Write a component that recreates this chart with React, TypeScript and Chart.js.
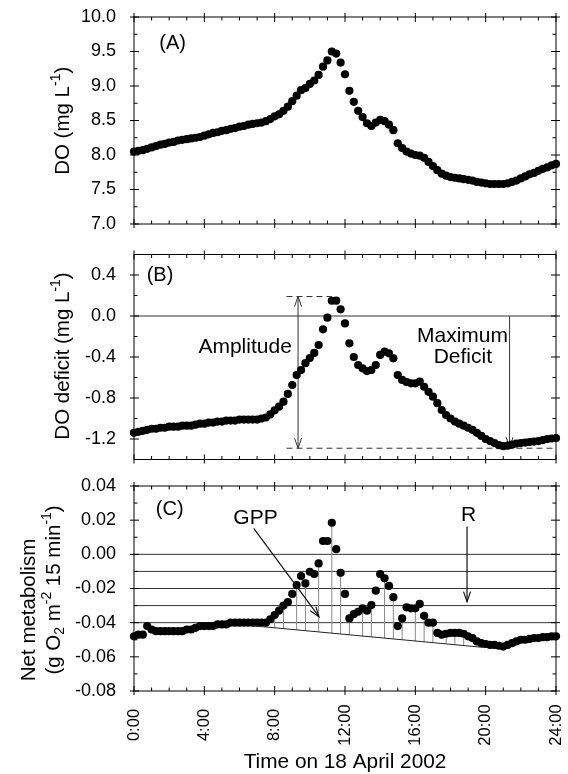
import React, { useEffect, useRef } from 'react';
import { Chart, registerables } from 'chart.js';

Chart.register(...registerables);

const FONT = '"Liberation Sans", Arial, Helvetica, sans-serif';

// ---- data (15-minute samples, 0:00 .. 24:00) ----
const STEP_HOURS = 0.25;

const DO_MG_L = [
  8.05, 8.06, 8.07, 8.09, 8.11, 8.13, 8.15, 8.16, 8.18, 8.19, 8.21, 8.22, 8.23, 8.24, 8.25, 8.26,
  8.28, 8.30, 8.32, 8.33, 8.35, 8.36, 8.38, 8.39, 8.41, 8.42, 8.44, 8.45, 8.46, 8.47, 8.49,
  8.52, 8.56, 8.59, 8.64, 8.70, 8.78, 8.86, 8.94, 8.97, 9.03, 9.08, 9.16, 9.28, 9.37,
  9.50, 9.47, 9.34, 9.17, 8.93, 8.77, 8.64, 8.55, 8.46, 8.42, 8.47, 8.51, 8.49, 8.44, 8.36, 8.17,
  8.10, 8.05, 8.02, 8.00, 7.99, 7.96, 7.90, 7.84,
  7.78, 7.73, 7.70, 7.68, 7.67, 7.66, 7.65, 7.64, 7.63, 7.61, 7.60, 7.59, 7.58, 7.58, 7.58, 7.58,
  7.59, 7.61, 7.63, 7.66, 7.69, 7.72, 7.74, 7.77, 7.80, 7.82, 7.85, 7.87,
];

const DO_DEFICIT = [
  -1.14, -1.13, -1.12, -1.11, -1.10, -1.10, -1.09, -1.09, -1.08, -1.08, -1.08, -1.07, -1.07, -1.07,
  -1.06, -1.05, -1.05, -1.04, -1.04, -1.03, -1.03, -1.02, -1.02, -1.02, -1.01, -1.01, -1.01, -1.01,
  -1.01, -1.00, -0.99, -0.96,
  -0.92, -0.885, -0.836, -0.76, -0.673, -0.576, -0.527, -0.46, -0.41, -0.36, -0.283, -0.13, -0.016, 0.149,
  0.15, 0.065, -0.072, -0.267, -0.40, -0.478, -0.51, -0.537, -0.527, -0.478, -0.38, -0.348, -0.364,
  -0.413, -0.576, -0.624, -0.645, -0.657, -0.657, -0.64, -0.69, -0.74, -0.787, -0.85, -0.917, -0.966, -1.0,
  -1.03, -1.05, -1.07, -1.09, -1.11, -1.14, -1.17, -1.20, -1.22, -1.24, -1.26, -1.27, -1.265, -1.255,
  -1.245, -1.24, -1.235, -1.23, -1.225, -1.22, -1.21, -1.20, -1.195, -1.19,
];

const NET_METABOLISM = [
  -0.048, -0.047, -0.047, -0.042, -0.044, -0.045, -0.045, -0.045, -0.045, -0.045, -0.045, -0.045,
  -0.044, -0.044, -0.043, -0.042, -0.042, -0.042, -0.042, -0.041, -0.041, -0.041, -0.040, -0.040,
  -0.040, -0.040, -0.040, -0.040, -0.040, -0.040, -0.040,
  -0.038, -0.0355, -0.033, -0.030, -0.028, -0.0232, -0.018, -0.0127, -0.017, -0.0102, -0.0115,
  -0.0053, 0.0078, 0.0078, 0.0185,
  0.003, -0.0108, -0.0232, -0.0375, -0.035, -0.0336, -0.0316, -0.033, -0.0297, -0.0213, -0.0115,
  -0.014, -0.0185, -0.0251, -0.042, -0.0375, -0.031, -0.0316, -0.0316, -0.029, -0.036, -0.040, -0.040,
  -0.046, -0.047, -0.0465, -0.046, -0.046, -0.046, -0.0465, -0.048, -0.049, -0.051, -0.052, -0.0525,
  -0.053, -0.053, -0.0535, -0.054, -0.053, -0.052, -0.051, -0.050, -0.050, -0.0495, -0.049, -0.049,
  -0.0485, -0.0485, -0.048, -0.048,
];

// ---- ticks ----
const X_TICKS = [0, 4, 8, 12, 16, 20, 24];
const X_MINOR = [1, 2, 3, 5, 6, 7, 9, 10, 11, 13, 14, 15, 17, 18, 19, 21, 22, 23];
const A_TICKS = [7.0, 7.5, 8.0, 8.5, 9.0, 9.5, 10.0];
const A_MINOR = [7.25, 7.75, 8.25, 8.75, 9.25, 9.75];
const B_TICKS = [-1.2, -0.8, -0.4, 0.0, 0.4];
const B_MINOR = [-1.4, -1.0, -0.6, -0.2, 0.2, 0.6];
const C_TICKS = [-0.08, -0.06, -0.04, -0.02, 0.0, 0.02, 0.04];
const C_MINOR = [-0.07, -0.05, -0.03, -0.01, 0.01, 0.03];

// ---- annotations ----
const C_REF_LINES = [0, -0.01, -0.02, -0.03, -0.04];
const R_BASELINE = [{ x: 6.75, y: -0.0418 }, { x: 20.0, y: -0.0546 }];
const GPP_STEM_TIMES = [8.0, 8.5, 9.25, 9.75, 10.5, 11.25, 11.75, 12.25, 13.0, 13.5, 14.25, 14.75, 15.25, 16.0, 16.5, 17.0, 17.75, 18.25, 18.75];
const AMPLITUDE = { x: 9.33, top: 0.19, bottom: -1.29, dashFrom: 8.67, dashTopTo: 11.25 };
const MAX_DEFICIT = { x: 21.36, top: 0.0, bottom: -1.28 };
const GPP_ARROW = { x1: 6.81, y1: 0.0152, x2: 10.52, y2: -0.0365 };
const R_ARROW = { x: 18.94, y1: 0.0163, y2: -0.0277 };

const W = 568;
const H = 774;
const LEFT = 134;
const RIGHT = 556;
const TITLE_PX = 20.5;
const NOTE_PX = 21;
const YTICK_PX = 18;
const XTICK_PX = 16.5;

type Seg = { t: string; s?: 'sup' | 'sub' };

function drawRich(ctx: CanvasRenderingContext2D, segs: Seg[], x: number, y: number, size: number, rotate: boolean) {
  ctx.save();
  ctx.translate(x, y);
  if (rotate) ctx.rotate(-Math.PI / 2);
  const small = size * 0.68;
  const widths = segs.map((s) => {
    ctx.font = `${s.s ? small : size}px ${FONT}`;
    return ctx.measureText(s.t).width;
  });
  const total = widths.reduce((a, b) => a + b, 0);
  let cx = -total / 2;
  ctx.textBaseline = 'alphabetic';
  ctx.textAlign = 'left';
  ctx.fillStyle = '#000';
  segs.forEach((s, i) => {
    ctx.font = `${s.s ? small : size}px ${FONT}`;
    const dy = s.s === 'sup' ? -size * 0.42 : s.s === 'sub' ? size * 0.22 : 0;
    ctx.fillText(s.t, cx, dy);
    cx += widths[i];
  });
  ctx.restore();
}

function text(ctx: CanvasRenderingContext2D, str: string, x: number, y: number, size: number, align: CanvasTextAlign = 'center') {
  ctx.save();
  ctx.font = `${size}px ${FONT}`;
  ctx.fillStyle = '#000';
  ctx.textAlign = align;
  ctx.textBaseline = 'middle';
  ctx.fillText(str, x, y);
  ctx.restore();
}

function arrowHead(ctx: CanvasRenderingContext2D, fx: number, fy: number, tx: number, ty: number, len = 10, half = 3.5) {
  const ang = Math.atan2(ty - fy, tx - fx);
  const bx = tx - len * Math.cos(ang);
  const by = ty - len * Math.sin(ang);
  const px = -Math.sin(ang) * half;
  const py = Math.cos(ang) * half;
  ctx.beginPath();
  ctx.moveTo(bx + px, by + py);
  ctx.lineTo(tx, ty);
  ctx.lineTo(bx - px, by - py);
  ctx.stroke();
}

function drawFrame(chart: any, yMajor: number[], yMinor: number[]) {
  const { ctx, chartArea: a } = chart;
  const xs = chart.scales.x;
  const ys = chart.scales.y;
  ctx.save();
  ctx.strokeStyle = '#000';
  ctx.lineWidth = 1;
  ctx.strokeRect(a.left, a.top, a.right - a.left, a.bottom - a.top);
  ctx.beginPath();
  const OUT = 4, IN = 5, MIN = 3.5;
  for (const v of X_TICKS) {
    const p = xs.getPixelForValue(v);
    ctx.moveTo(p, a.bottom + OUT); ctx.lineTo(p, a.bottom - IN);
    ctx.moveTo(p, a.top - OUT); ctx.lineTo(p, a.top + IN);
  }
  for (const v of X_MINOR) {
    const p = xs.getPixelForValue(v);
    ctx.moveTo(p, a.bottom); ctx.lineTo(p, a.bottom - MIN);
    ctx.moveTo(p, a.top); ctx.lineTo(p, a.top + MIN);
  }
  for (const v of yMajor) {
    const p = ys.getPixelForValue(v);
    ctx.moveTo(a.left - OUT, p); ctx.lineTo(a.left + IN, p);
    ctx.moveTo(a.right + OUT, p); ctx.lineTo(a.right - IN, p);
  }
  for (const v of yMinor) {
    const p = ys.getPixelForValue(v);
    ctx.moveTo(a.left, p); ctx.lineTo(a.left + MIN, p);
    ctx.moveTo(a.right, p); ctx.lineTo(a.right - MIN, p);
  }
  ctx.stroke();
  ctx.restore();
}

type PanelCfg = {
  top: number;
  bottom: number;
  min: number;
  max: number;
  ticks: number[];
  minor: number[];
  digits: number;
  values: number[];
  showX: boolean;
  extra?: any[];
  under?: (chart: any) => void;
  over?: (chart: any) => void;
};

function makeChart(canvas: HTMLCanvasElement, cfg: PanelCfg) {
  const points = cfg.values.map((v, i) => ({ x: i * STEP_HOURS, y: v }));
  return new Chart(canvas, {
    type: 'scatter',
    data: {
      datasets: [
        ...(cfg.extra || []),
        {
          data: points,
          showLine: false,
          pointRadius: 4.1,
          pointBackgroundColor: '#000',
          pointBorderWidth: 0,
          pointHoverRadius: 4.1,
          clip: false,
        },
      ],
    },
    options: {
      animation: false,
      responsive: false,
      events: [],
      layout: {
        padding: { left: 0, right: W - RIGHT, top: cfg.top, bottom: cfg.showX ? 0 : H - cfg.bottom },
      },
      plugins: { legend: { display: false }, tooltip: { enabled: false } },
      scales: {
        x: {
          type: 'linear',
          min: 0,
          max: 24,
          display: cfg.showX,
          grid: { display: false, drawTicks: false },
          border: { display: false },
          afterBuildTicks: (s: any) => { s.ticks = X_TICKS.map((v) => ({ value: v })); },
          afterFit: (s: any) => {
            if (cfg.showX) s.height = H - cfg.bottom;
            s.paddingLeft = 0;
            s.paddingRight = 0;
          },
          // labels are drawn centred (rotated) by the panel plugin, positioned with this scale
          ticks: { display: false, autoSkip: false, callback: (v: any) => `${v}:00` },
        },
        y: {
          type: 'linear',
          min: cfg.min,
          max: cfg.max,
          grid: { display: false, drawTicks: false },
          border: { display: false },
          afterBuildTicks: (s: any) => { s.ticks = cfg.ticks.map((v) => ({ value: v })); },
          afterFit: (s: any) => {
            s.width = LEFT;
            s.paddingTop = 0;
            s.paddingBottom = 0;
          },
          ticks: {
            padding: 18,
            color: '#000',
            font: { family: FONT, size: YTICK_PX },
            callback: (v: any) => Number(v).toFixed(cfg.digits),
          },
        },
      },
    } as any,
    plugins: [
      {
        id: 'panelDecor',
        beforeDatasetsDraw(chart: any) { cfg.under && cfg.under(chart); },
        afterDatasetsDraw(chart: any) {
          drawFrame(chart, cfg.ticks, cfg.minor);
          cfg.over && cfg.over(chart);
        },
      },
    ],
  });
}

export default function App() {
  const refA = useRef<HTMLCanvasElement>(null);
  const refB = useRef<HTMLCanvasElement>(null);
  const refC = useRef<HTMLCanvasElement>(null);

  useEffect(() => {
    const chartA = makeChart(refA.current!, {
      top: 17, bottom: 224, min: 7, max: 10, ticks: A_TICKS, minor: A_MINOR, digits: 1,
      values: DO_MG_L, showX: false,
      over: (chart) => {
        const { ctx, scales: { x, y } } = chart;
        text(ctx, '(A)', x.getPixelForValue(1.44), y.getPixelForValue(9.62), NOTE_PX - 1, 'left');
        drawRich(ctx, [{ t: 'DO (mg L' }, { t: '-1', s: 'sup' }, { t: ')' }], 69, 120.8, TITLE_PX, true);
      },
    });

    const chartB = makeChart(refB.current!, {
      top: 254.5, bottom: 459.5, min: -1.4, max: 0.6, ticks: B_TICKS, minor: B_MINOR, digits: 1,
      values: DO_DEFICIT, showX: false,
      under: (chart) => {
        const { ctx, chartArea: a, scales: { x, y } } = chart;
        ctx.save();
        ctx.strokeStyle = '#333';
        ctx.lineWidth = 1;
        const y0 = y.getPixelForValue(0);
        ctx.beginPath(); ctx.moveTo(a.left, y0); ctx.lineTo(a.right, y0); ctx.stroke();
        ctx.setLineDash([6, 4]);
        const yt = y.getPixelForValue(AMPLITUDE.top);
        const yb = y.getPixelForValue(AMPLITUDE.bottom);
        ctx.beginPath();
        ctx.moveTo(x.getPixelForValue(AMPLITUDE.dashFrom), yt); ctx.lineTo(x.getPixelForValue(AMPLITUDE.dashTopTo), yt);
        ctx.moveTo(x.getPixelForValue(AMPLITUDE.dashFrom), yb); ctx.lineTo(a.right, yb);
        ctx.stroke();
        ctx.setLineDash([]);
        const ax = x.getPixelForValue(AMPLITUDE.x);
        ctx.beginPath(); ctx.moveTo(ax, yt); ctx.lineTo(ax, yb); ctx.stroke();
        arrowHead(ctx, ax, yb, ax, yt);
        arrowHead(ctx, ax, yt, ax, yb);
        const mx = x.getPixelForValue(MAX_DEFICIT.x);
        const my1 = y.getPixelForValue(MAX_DEFICIT.top);
        const my2 = y.getPixelForValue(MAX_DEFICIT.bottom);
        ctx.beginPath(); ctx.moveTo(mx, my1); ctx.lineTo(mx, my2); ctx.stroke();
        arrowHead(ctx, mx, my1, mx, my2);
        ctx.restore();
      },
      over: (chart) => {
        const { ctx, scales: { x, y } } = chart;
        text(ctx, '(B)', x.getPixelForValue(0.72), y.getPixelForValue(0.4), NOTE_PX - 1, 'left');
        text(ctx, 'Amplitude', x.getPixelForValue(6.32), y.getPixelForValue(-0.30), NOTE_PX);
        text(ctx, 'Maximum', x.getPixelForValue(18.68), y.getPixelForValue(-0.20), NOTE_PX);
        text(ctx, 'Deficit', x.getPixelForValue(18.7), y.getPixelForValue(-0.40), NOTE_PX);
        drawRich(ctx, [{ t: 'DO deficit (mg L' }, { t: '-1', s: 'sup' }, { t: ')' }], 69, 356, TITLE_PX, true);
      },
    });

    const chartC = makeChart(refC.current!, {
      top: 486, bottom: 691, min: -0.08, max: 0.04, ticks: C_TICKS, minor: C_MINOR, digits: 2,
      values: NET_METABOLISM, showX: true,
      extra: [
        {
          data: R_BASELINE,
          showLine: true,
          borderColor: '#222',
          borderWidth: 1,
          pointRadius: 0,
          pointHoverRadius: 0,
        },
      ],
      under: (chart) => {
        const { ctx, chartArea: a, scales: { x, y } } = chart;
        ctx.save();
        ctx.strokeStyle = '#333';
        ctx.lineWidth = 1;
        ctx.beginPath();
        for (const v of C_REF_LINES) {
          const p = y.getPixelForValue(v);
          ctx.moveTo(a.left, p); ctx.lineTo(a.right, p);
        }
        ctx.stroke();
        ctx.strokeStyle = '#888';
        ctx.beginPath();
        const [b0, b1] = R_BASELINE;
        for (const t of GPP_STEM_TIMES) {
          const v = NET_METABOLISM[Math.round(t / STEP_HOURS)];
          const base = b0.y + ((t - b0.x) / (b1.x - b0.x)) * (b1.y - b0.y);
          const px = x.getPixelForValue(t);
          ctx.moveTo(px, y.getPixelForValue(v)); ctx.lineTo(px, y.getPixelForValue(base));
        }
        ctx.stroke();
        ctx.restore();
      },
      over: (chart) => {
        const { ctx, chartArea: a, scales: { x, y } } = chart;
        ctx.save();
        ctx.strokeStyle = '#111';
        ctx.lineWidth = 1.2;
        const gx1 = x.getPixelForValue(GPP_ARROW.x1), gy1 = y.getPixelForValue(GPP_ARROW.y1);
        const gx2 = x.getPixelForValue(GPP_ARROW.x2), gy2 = y.getPixelForValue(GPP_ARROW.y2);
        ctx.beginPath(); ctx.moveTo(gx1, gy1); ctx.lineTo(gx2, gy2); ctx.stroke();
        arrowHead(ctx, gx1, gy1, gx2, gy2);
        const rx = x.getPixelForValue(R_ARROW.x);
        const ry1 = y.getPixelForValue(R_ARROW.y1), ry2 = y.getPixelForValue(R_ARROW.y2);
        ctx.beginPath(); ctx.moveTo(rx, ry1); ctx.lineTo(rx, ry2); ctx.stroke();
        arrowHead(ctx, rx, ry1, rx, ry2);
        ctx.restore();
        text(ctx, '(C)', x.getPixelForValue(1.24), y.getPixelForValue(0.026), NOTE_PX - 1, 'left');
        text(ctx, 'GPP', x.getPixelForValue(6.91), y.getPixelForValue(0.0211), NOTE_PX);
        text(ctx, 'R', x.getPixelForValue(19.03), y.getPixelForValue(0.023), NOTE_PX);
        drawRich(ctx, [{ t: 'Net metabolism' }], 34.5, 610, TITLE_PX, true);
        drawRich(ctx, [
          { t: '(g O' }, { t: '2', s: 'sub' }, { t: ' m' }, { t: '-2', s: 'sup' },
          { t: ' 15 min' }, { t: '-1', s: 'sup' }, { t: ')' },
        ], 59.5, 590, TITLE_PX, true);
        // x tick labels: rotated, centred below each major tick of the x scale
        ctx.save();
        ctx.font = `${XTICK_PX}px ${FONT}`;
        ctx.fillStyle = '#000';
        ctx.textAlign = 'center';
        ctx.textBaseline = 'middle';
        for (const v of X_TICKS) {
          ctx.save();
          ctx.translate(x.getPixelForValue(v), 725);
          ctx.rotate(-Math.PI / 2);
          ctx.fillText(`${v}:00`, 0, 0);
          ctx.restore();
        }
        ctx.restore();
        ctx.save();
        ctx.font = `${TITLE_PX + 0.3}px ${FONT}`;
        ctx.fillStyle = '#000';
        ctx.textAlign = 'center';
        ctx.textBaseline = 'alphabetic';
        ctx.fillText('Time on 18 April 2002', (a.left + a.right) / 2, 768);
        ctx.restore();
      },
    });

    return () => {
      chartA.destroy();
      chartB.destroy();
      chartC.destroy();
    };
  }, []);

  const cs: React.CSSProperties = { position: 'absolute', left: 0, top: 0, width: W, height: H };
  return (
    <div style={{ position: 'absolute', left: 0, top: 0, width: W, height: H, background: '#fff', overflow: 'hidden' }}>
      <canvas ref={refA} width={W} height={H} style={cs} />
      <canvas ref={refB} width={W} height={H} style={cs} />
      <canvas ref={refC} width={W} height={H} style={cs} />
    </div>
  );
}
